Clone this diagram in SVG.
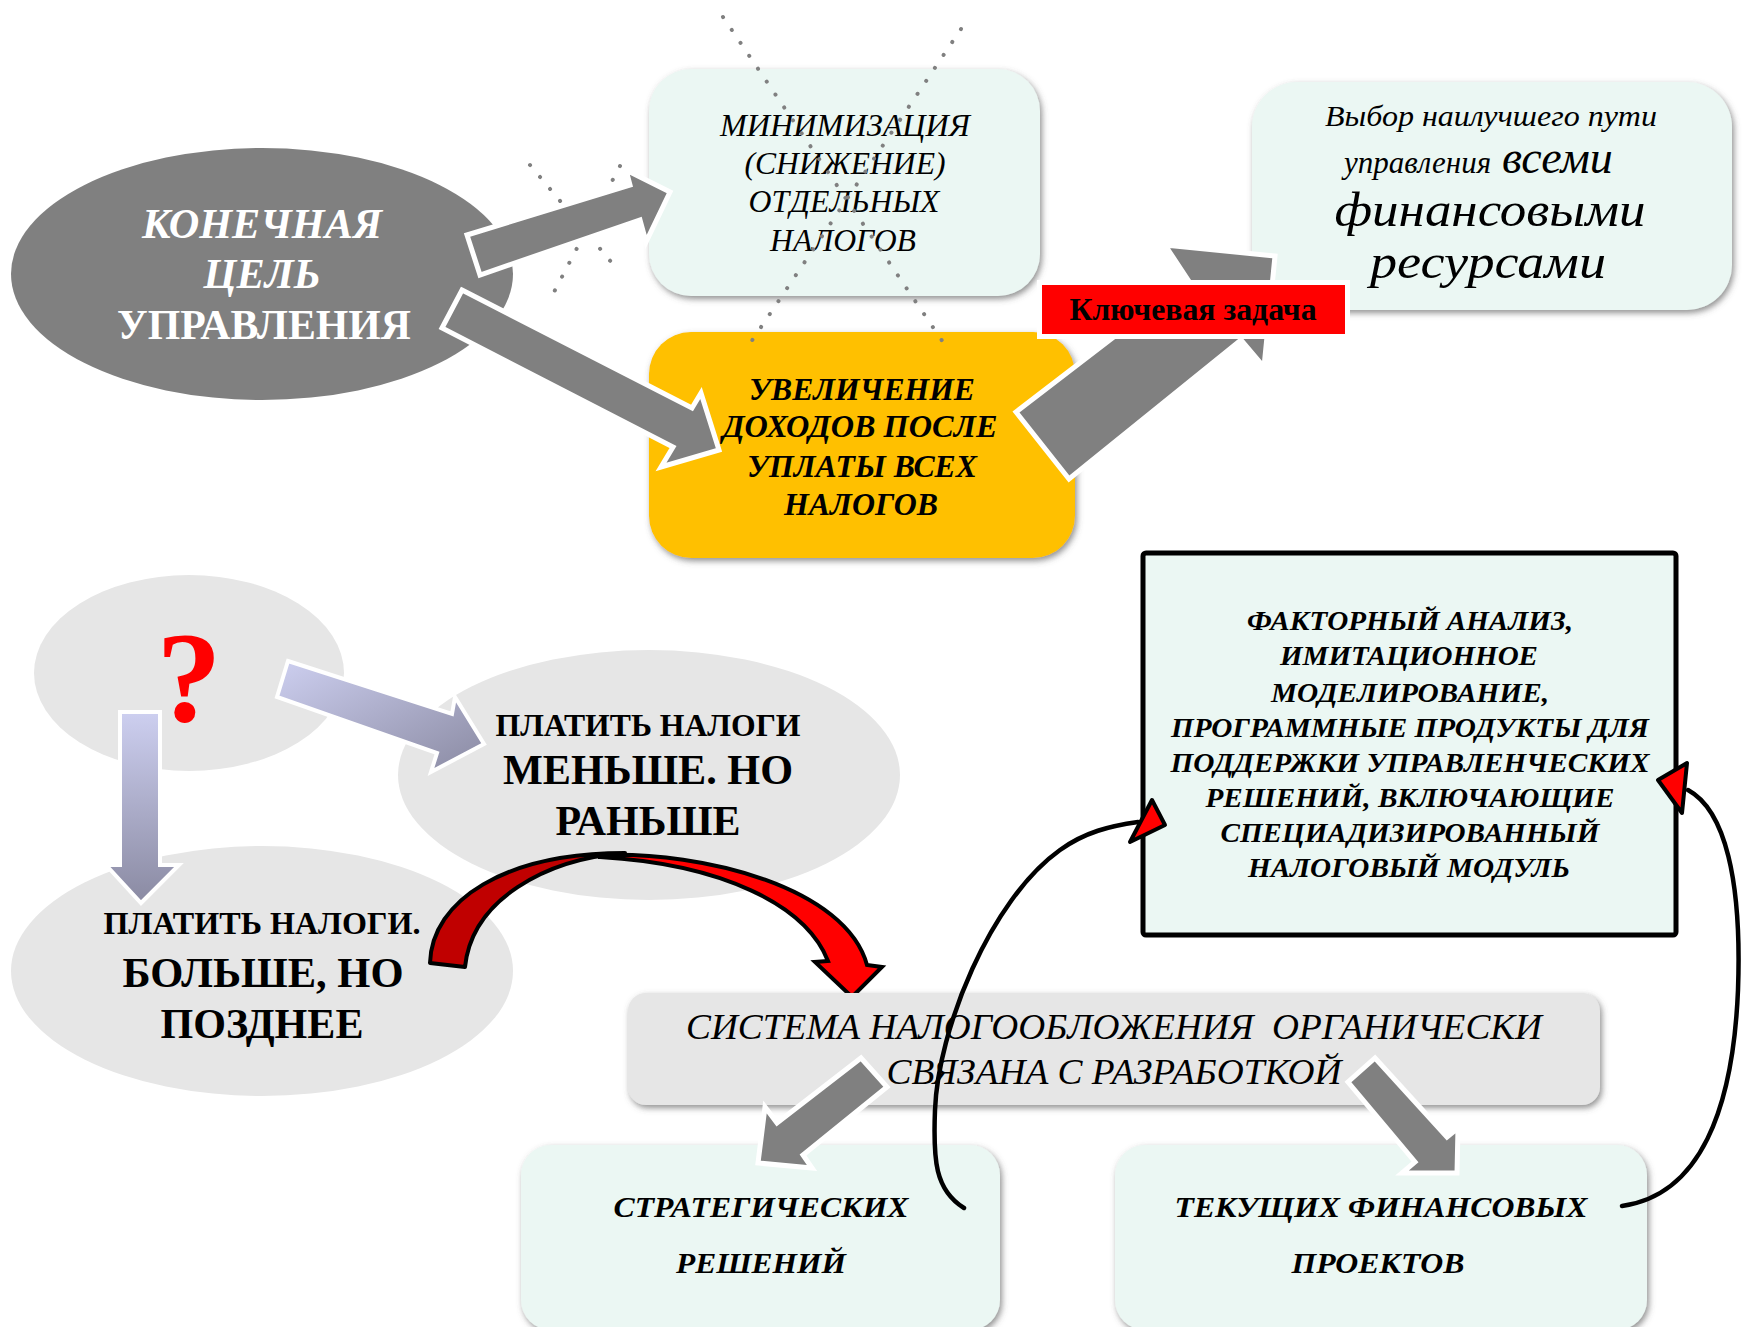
<svg xmlns="http://www.w3.org/2000/svg" width="1745" height="1327" viewBox="0 0 1745 1327">
<defs>
<filter id="sh" x="-10%" y="-10%" width="125%" height="135%"><feDropShadow dx="2" dy="3" stdDeviation="3" flood-color="#555555" flood-opacity="0.65"/></filter>
<linearGradient id="lavR" x1="0" y1="0" x2="1" y2="1"><stop offset="0" stop-color="#CDCFF0"/><stop offset="1" stop-color="#8A8AA2"/></linearGradient>
<linearGradient id="lavD" x1="0" y1="0" x2="0" y2="1"><stop offset="0" stop-color="#CDCFF0"/><stop offset="1" stop-color="#8A8AA2"/></linearGradient>
</defs>
<style>
.t{font-family:"Liberation Serif","Times New Roman",serif;text-anchor:middle}
.b{font-weight:bold}
.i{font-style:italic}
.mint{fill:#EBF7F3}
.lg{fill:#E6E6E6}
.garrow{fill:#808080;stroke:#FFFFFF;stroke-width:5;stroke-linejoin:miter}
.dots{fill:none;stroke:#808080;stroke-width:4;stroke-linecap:round;stroke-dasharray:0.1 15.5}
.curve{fill:none;stroke:#000000;stroke-width:4.5;stroke-linecap:round}
.rhead{fill:#FF0000;stroke:#000000;stroke-width:4;stroke-linejoin:round}
</style>
<rect x="0" y="0" width="1745" height="1327" fill="#FFFFFF"/>

<g id="goal">
<ellipse cx="262" cy="274" rx="251" ry="126" fill="#808080"/>
<text class="t b i" x="262" y="238" font-size="42" fill="#FFFFFF" textLength="240" lengthAdjust="spacingAndGlyphs">КОНЕЧНАЯ</text>
<text class="t b i" x="262" y="288" font-size="42" fill="#FFFFFF" textLength="117" lengthAdjust="spacingAndGlyphs">ЦЕЛЬ</text>
<text class="t b" x="264" y="339" font-size="42" fill="#FFFFFF" textLength="294" lengthAdjust="spacingAndGlyphs">УПРАВЛЕНИЯ</text>
</g>

<g id="cross-small">
<line class="dots" x1="530" y1="165" x2="612" y2="263"/>
<line class="dots" x1="620" y1="166" x2="553" y2="294"/>
</g>

<g id="minimization">
<rect x="649" y="69" width="391" height="227" rx="42" class="mint" filter="url(#sh)"/>
<text class="t i" x="845" y="136" font-size="31" fill="#000" textLength="250" lengthAdjust="spacingAndGlyphs">МИНИМИЗАЦИЯ</text>
<text class="t i" x="845" y="174" font-size="31" fill="#000" textLength="201" lengthAdjust="spacingAndGlyphs">(СНИЖЕНИЕ)</text>
<text class="t i" x="844" y="212" font-size="31" fill="#000" textLength="191" lengthAdjust="spacingAndGlyphs">ОТДЕЛЬНЫХ</text>
<text class="t i" x="843" y="251" font-size="31" fill="#000" textLength="146" lengthAdjust="spacingAndGlyphs">НАЛОГОВ</text>
</g>

<g id="increase">
<rect x="649" y="332" width="426" height="226" rx="42" fill="#FFC000" filter="url(#sh)"/>
<text class="t b i" x="862" y="400" font-size="32" fill="#000" textLength="226" lengthAdjust="spacingAndGlyphs">УВЕЛИЧЕНИЕ</text>
<text class="t b i" x="860" y="437" font-size="32" fill="#000" textLength="275" lengthAdjust="spacingAndGlyphs">ДОХОДОВ ПОСЛЕ</text>
<text class="t b i" x="862" y="477" font-size="32" fill="#000" textLength="230" lengthAdjust="spacingAndGlyphs">УПЛАТЫ ВСЕХ</text>
<text class="t b i" x="861" y="515" font-size="32" fill="#000" textLength="154" lengthAdjust="spacingAndGlyphs">НАЛОГОВ</text>
</g>

<g id="best-way">
<rect x="1252" y="82" width="480" height="228" rx="45" class="mint" filter="url(#sh)"/>
<text class="t i" x="1491" y="126" font-size="29" fill="#000" textLength="332" lengthAdjust="spacingAndGlyphs">Выбор наилучшего пути</text>
<text class="i" x="1344" y="173" font-size="31" fill="#000" font-family="Liberation Serif, Times New Roman, serif"><tspan x="1344">управления</tspan><tspan x="1502" font-size="46">всеми</tspan></text>
<text class="t i" x="1490" y="226" font-size="48" fill="#000" textLength="311" lengthAdjust="spacingAndGlyphs">финансовыми</text>
<text class="t i" x="1488" y="278" font-size="48" fill="#000" textLength="236" lengthAdjust="spacingAndGlyphs">ресурсами</text>
</g>

<g id="cross-big">
<line class="dots" x1="723" y1="17" x2="947" y2="348"/>
<line class="dots" x1="961" y1="29" x2="747" y2="348"/>
</g>

<g id="connectors-top">
<polygon class="garrow" points="467,235 630,185 626,170 670,192 646,242 640,220 480,275"/>
<polygon class="garrow" points="462,290 692,408 701,393 719,450 661,467 673,447 442,328"/>
<polygon class="garrow" points="1016,412 1188,280 1165,245 1275,256 1264,367 1241,340 1069,479"/>
</g>

<g id="key-task">
<rect x="1037" y="280" width="313" height="59" fill="#FFFFFF"/>
<rect x="1042" y="285" width="303" height="49" fill="#FF0000"/>
<text class="t b" x="1193" y="320" font-size="32" fill="#000" textLength="247" lengthAdjust="spacingAndGlyphs">Ключевая задача</text>
</g>

<g id="question">
<ellipse cx="189" cy="673" rx="155" ry="98" class="lg"/>
<text class="t b" x="189" y="721" font-size="130" fill="#FF0000">?</text>
</g>

<g id="pay-less">
<ellipse cx="649" cy="775" rx="251" ry="125" class="lg"/>
<text class="t b" x="648" y="736" font-size="32" fill="#000" textLength="305" lengthAdjust="spacingAndGlyphs">ПЛАТИТЬ НАЛОГИ</text>
<text class="t b" x="648" y="784" font-size="42" fill="#000" textLength="290" lengthAdjust="spacingAndGlyphs">МЕНЬШЕ. НО</text>
<text class="t b" x="648" y="835" font-size="42" fill="#000" textLength="185" lengthAdjust="spacingAndGlyphs">РАНЬШЕ</text>
</g>

<g id="pay-more">
<ellipse cx="262" cy="971" rx="251" ry="125" class="lg"/>
<text class="t b" x="262" y="934" font-size="32" fill="#000" textLength="317" lengthAdjust="spacingAndGlyphs">ПЛАТИТЬ НАЛОГИ.</text>
<text class="t b" x="263" y="987" font-size="42" fill="#000" textLength="281" lengthAdjust="spacingAndGlyphs">БОЛЬШЕ, НО</text>
<text class="t b" x="262" y="1038" font-size="42" fill="#000" textLength="203" lengthAdjust="spacingAndGlyphs">ПОЗДНЕЕ</text>
</g>

<g id="connectors-mid">
<polygon points="288,661 452,714 455,697 484,744 431,772 437,753 277,697" fill="url(#lavR)" stroke="#FFFFFF" stroke-width="4"/>
<polygon points="120,712 160,712 160,865 179,865 141,903 106,865 120,865" fill="url(#lavD)" stroke="#FFFFFF" stroke-width="4"/>
<path d="M430,963 C432,900 505,853 625,853 C545,859 472,900 465,967 Z" fill="#C00000" stroke="#000" stroke-width="4" stroke-linejoin="round"/>
<path d="M600,855 C705,851 846,888 867,965 L882,967 L852,997 L815,962 L828,961 C806,905 722,864 600,857 Z" fill="#FF0000" stroke="#000" stroke-width="4" stroke-linejoin="miter"/>
</g>

<g id="system">
<rect x="628" y="993" width="972" height="112" rx="18" class="lg" filter="url(#sh)"/>
<text class="t i" x="1114" y="1039" font-size="36" fill="#000" textLength="856" lengthAdjust="spacingAndGlyphs" xml:space="preserve">СИСТЕМА НАЛОГООБЛОЖЕНИЯ  ОРГАНИЧЕСКИ</text>
<text class="t i" x="1114" y="1084" font-size="36" fill="#000" textLength="455" lengthAdjust="spacingAndGlyphs">СВЯЗАНА С РАЗРАБОТКОЙ</text>
</g>

<g id="strategic">
<rect x="521" y="1145" width="479" height="185" rx="30" class="mint" filter="url(#sh)"/>
<text class="t b i" x="761" y="1217" font-size="30" fill="#000" textLength="295" lengthAdjust="spacingAndGlyphs">СТРАТЕГИЧЕСКИХ</text>
<text class="t b i" x="761" y="1273" font-size="30" fill="#000" textLength="170" lengthAdjust="spacingAndGlyphs">РЕШЕНИЙ</text>
</g>

<g id="current">
<rect x="1115" y="1145" width="532" height="185" rx="30" class="mint" filter="url(#sh)"/>
<text class="t b i" x="1381" y="1217" font-size="30" fill="#000" textLength="413" lengthAdjust="spacingAndGlyphs">ТЕКУЩИХ ФИНАНСОВЫХ</text>
<text class="t b i" x="1378" y="1273" font-size="30" fill="#000" textLength="173" lengthAdjust="spacingAndGlyphs">ПРОЕКТОВ</text>
</g>

<g id="factor">
<rect x="1143" y="553" width="533" height="382" rx="3" class="mint" stroke="#000" stroke-width="5"/>
<text class="t b i" x="1410" y="630" font-size="28" fill="#000" textLength="326" lengthAdjust="spacingAndGlyphs">ФАКТОРНЫЙ АНАЛИЗ,</text>
<text class="t b i" x="1409" y="665" font-size="28" fill="#000" textLength="258" lengthAdjust="spacingAndGlyphs">ИМИТАЦИОННОЕ</text>
<text class="t b i" x="1410" y="702" font-size="28" fill="#000" textLength="278" lengthAdjust="spacingAndGlyphs">МОДЕЛИРОВАНИЕ,</text>
<text class="t b i" x="1410" y="737" font-size="28" fill="#000" textLength="478" lengthAdjust="spacingAndGlyphs">ПРОГРАММНЫЕ ПРОДУКТЫ ДЛЯ</text>
<text class="t b i" x="1410" y="772" font-size="28" fill="#000" textLength="479" lengthAdjust="spacingAndGlyphs">ПОДДЕРЖКИ УПРАВЛЕНЧЕСКИХ</text>
<text class="t b i" x="1410" y="807" font-size="28" fill="#000" textLength="409" lengthAdjust="spacingAndGlyphs">РЕШЕНИЙ, ВКЛЮЧАЮЩИЕ</text>
<text class="t b i" x="1410" y="842" font-size="28" fill="#000" textLength="379" lengthAdjust="spacingAndGlyphs">СПЕЦИАДИЗИРОВАННЫЙ</text>
<text class="t b i" x="1409" y="877" font-size="28" fill="#000" textLength="322" lengthAdjust="spacingAndGlyphs">НАЛОГОВЫЙ МОДУЛЬ</text>
</g>

<g id="connectors-bottom">
<polygon class="garrow" points="861,1058 887,1087 803,1155 812,1168 758,1163 765,1107 777,1123"/>
<polygon class="garrow" points="1375,1058 1447,1137 1458,1128 1457,1173 1402,1173 1415,1162 1348,1082"/>
<path class="curve" d="M964,1208 C935,1190 933,1160 935,1110 C938,1030 990,900 1060,850 C1085,832 1110,826 1138,822"/>
<polygon class="rhead" points="1152,800 1165,825 1130,842"/>
<path class="curve" d="M1622,1206 C1700,1195 1733,1110 1738,990 C1742,880 1725,810 1688,790"/>
<polygon class="rhead" points="1658,780 1687,763 1682,813"/>
</g>
</svg>
